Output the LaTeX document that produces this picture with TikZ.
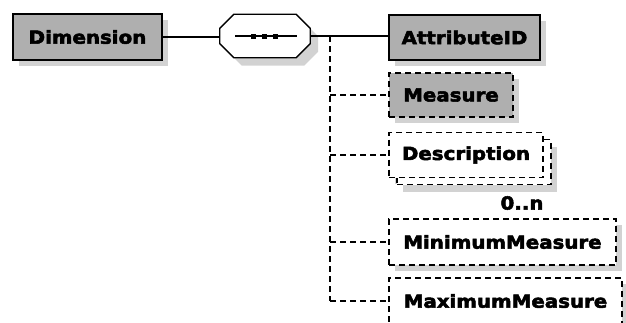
\documentclass[tikz,border=0pt]{standalone}
\usepackage{fontspec}
\newfontfamily\lblfont[FakeStretch=1.1,FakeBold=3]{DejaVu Sans}
\definecolor{boxgray}{HTML}{AFAFAF}
\definecolor{shd}{HTML}{D2D2D2}
\tikzset{
  lbl/.style={font=\lblfont\bfseries\fontsize{18}{18}\selectfont, text=black},
  elem/.style={lbl, rectangle, draw=black, line width=1.5pt, inner sep=0pt,
    preaction={draw=none, fill=shd, transform canvas={shift={(6pt,-6pt)}}}},
  req/.style={elem, fill=boxgray},
  opt/.style={elem, dashed, dash pattern=on 6pt off 4pt},
  conn/.style={line width=1.3pt, black},
  dconn/.style={conn, dash pattern=on 6pt off 4pt},
  octo/.style={line width=1.3pt},
}
\begin{document}
\begin{tikzpicture}[x=1pt,y=-1pt]
\useasboundingbox (0,0) rectangle (626,322);
% nodes
\node[req, minimum width=149pt, minimum height=46pt] (dim) at (87.5,37) {Dimension};
\node[rectangle, draw=none, minimum width=90pt, minimum height=43pt, inner sep=0pt] (seq) at (265,36) {};
\begin{scope}[transform canvas={shift={(8pt,-8pt)}}]
\fill[shd] ([shift={(14,0)}]seq.north west) -- ([shift={(-14,0)}]seq.north east)
   -- ([shift={(0,14)}]seq.north east) -- ([shift={(0,-14)}]seq.south east)
   -- ([shift={(-14,0)}]seq.south east) -- ([shift={(14,0)}]seq.south west)
   -- ([shift={(0,-14)}]seq.south west) -- ([shift={(0,14)}]seq.north west) -- cycle;
\end{scope}
\draw[octo, fill=white] ([shift={(14,0)}]seq.north west) -- ([shift={(-14,0)}]seq.north east)
   -- ([shift={(0,14)}]seq.north east) -- ([shift={(0,-14)}]seq.south east)
   -- ([shift={(-14,0)}]seq.south east) -- ([shift={(14,0)}]seq.south west)
   -- ([shift={(0,-14)}]seq.south west) -- ([shift={(0,14)}]seq.north west) -- cycle;
\node[req, minimum width=151pt, minimum height=45pt] (attr) at (464.5,37.5) {AttributeID};
\node[opt, fill=boxgray, minimum width=124pt, minimum height=44pt] (meas) at (451,95) {Measure};
\node[opt, fill=white, minimum width=154pt, minimum height=45pt,
      preaction={draw=none, fill=shd, transform canvas={shift={(14pt,-14pt)}}},
      preaction={draw=black, fill=white, transform canvas={shift={(8pt,-7pt)}}}] (desc) at (466,155) {Description};
\node[lbl] (card) at (522,203) {0..n};
\node[opt, fill=white, minimum width=227pt, minimum height=46pt] (minm) at (502.5,242) {MinimumMeasure};
\node[opt, fill=white, minimum width=233pt, minimum height=46pt] (maxm) at (505.5,301) {MaximumMeasure};
% sequence symbol
\coordinate (sl) at (235,36);
\coordinate (sr) at (297,36);
\draw[conn] (sl) -- (sr);
\foreach \px in {253,264,275} \fill (\px-2.5,33.5) rectangle (\px+2.5,38.5);
% connectors
\coordinate (tr) at (330,36);
\draw[conn] (dim.east) -- (dim.east -| seq.west);
\draw[conn] (seq.east) -- (tr) -- (tr -| attr.west);
\draw[dconn] (tr) -- (tr |- maxm.west);
\draw[dconn] (tr |- meas.west) -- (meas.west);
\draw[dconn] (tr |- desc.west) -- (desc.west);
\draw[dconn] (tr |- minm.west) -- (minm.west);
\draw[dconn] (tr |- maxm.west) -- (maxm.west);
\end{tikzpicture}
\end{document}
